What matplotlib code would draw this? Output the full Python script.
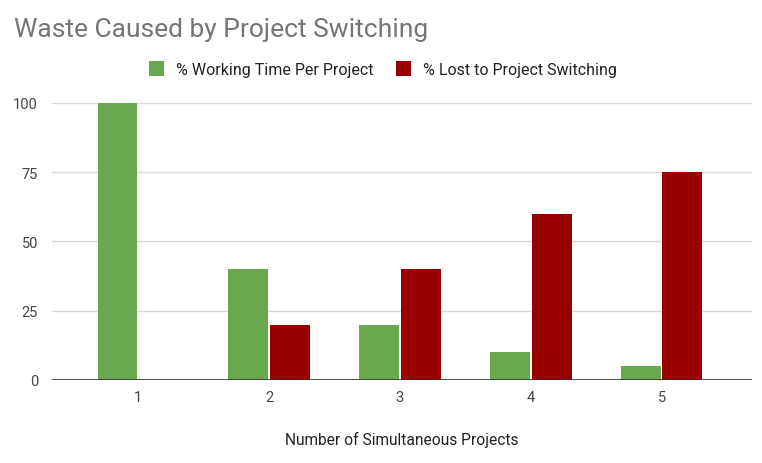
import numpy as np
import matplotlib
matplotlib.use("Agg")
import matplotlib.pyplot as plt

# data
projects = ["1", "2", "3", "4", "5"]
working_time = [100, 40, 20, 10, 5]
lost_switching = [0, 20, 40, 60, 75]
yticks = [0, 25, 50, 75, 100]

plt.rcParams['font.family'] = ['Roboto', 'DejaVu Sans']

fig = plt.figure(figsize=(7.62, 4.64), dpi=100)
ax = fig.add_axes([0.068, 0.179, 0.919, 0.597])

x = np.arange(len(projects))
w = 0.305
ax.bar(x - 0.158, working_time, w, color="#6aa84f", label="% Working Time Per Project", zorder=3)
ax.bar(x + 0.158, lost_switching, w, color="#990000", label="% Lost to Project Switching", zorder=3)

ax.set_xlim(-0.66, 4.69)
ax.set_ylim(0, 100)
ax.set_xticks(x)
ax.set_xticklabels(projects)
ax.set_yticks(yticks)
ax.grid(axis="y", color="#d9d9d9", linewidth=1, zorder=0)
ax.axhline(0, color="#333333", linewidth=1.2, zorder=4)
for s in ax.spines.values():
    s.set_visible(False)
ax.tick_params(length=0, labelsize=10.5, colors="#444444", pad=7)
ax.tick_params(axis="y", pad=10)

ax.set_xlabel("Number of Simultaneous Projects", fontsize=11.2, color="#222222", labelpad=20)

fig.text(0.018, 0.935, "Waste Caused by Project Switching", fontsize=19, color="#757575", va="center")

fig.legend(loc="center", bbox_to_anchor=(0.503, 0.849), ncol=2, frameon=False,
           fontsize=11.5, handlelength=0.9, handleheight=1.1, columnspacing=1.4,
           handletextpad=0.8, labelcolor="#222222")

fig.savefig("out.png", dpi=100)
